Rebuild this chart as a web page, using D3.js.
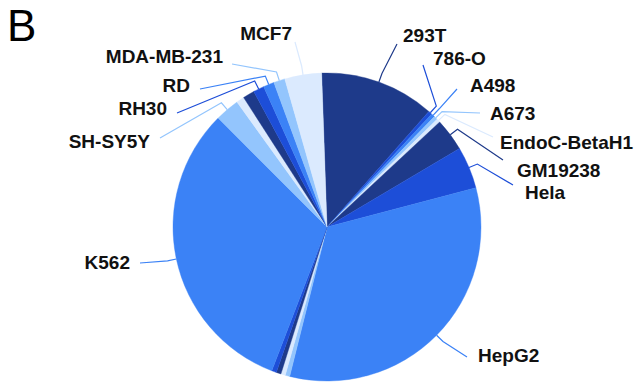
<!DOCTYPE html>
<html>
<head>
<meta charset="utf-8">
<script src="https://cdn.jsdelivr.net/npm/d3@7"></script>
<style>
  html, body { margin: 0; padding: 0; background: #fff; }
  svg { display: block; }
  text { font-family: "Liberation Sans", Arial, sans-serif; }
</style>
</head>
<body>
<svg id="chart" width="636" height="383"></svg>
<script>
// ---- data ----
const categories = ["293T", "786-O", "A498", "A673", "EndoC-BetaH1", "GM19238", "Hela", "HepG2",
  "", "", "", "", "K562", "SH-SY5Y", "", "", "RH30", "RD", "MDA-MB-231", "MCF7"];
const shares = [12.06, 0.39, 0.39, 0.39, 0.39, 3.42, 4.42, 33.0,
  0.47, 0.47, 0.5, 0.5, 31.67, 2.56, 0.83, 1.22, 1.14, 1.14, 1.19, 3.86];
const palette = ["#1e3a8a", "#1d4ed8", "#3b82f6", "#93c5fd", "#dbeafe"];
const panelLetter = "B";

// ---- layout (label anchors, not data) ----
const labelLayout = {
  "293T":         { tx: 403, ty: 42,  anchor: "start", lx: 397, ly: 44 },
  "786-O":        { tx: 433, ty: 65,  anchor: "start", lx: 423, ly: 65 },
  "A498":         { tx: 470, ty: 92,  anchor: "start", lx: 457, ly: 89 },
  "A673":         { tx: 490, ty: 120, anchor: "start", lx: 480, ly: 113 },
  "EndoC-BetaH1": { tx: 500, ty: 149, anchor: "start", lx: 493, ly: 137 },
  "GM19238":      { tx: 517, ty: 177, anchor: "start", lx: 503, ly: 160 },
  "Hela":         { tx: 525, ty: 199, anchor: "start", lx: 513, ly: 185 },
  "HepG2":        { tx: 478, ty: 362, anchor: "start", lx: 467, ly: 357 },
  "K562":         { tx: 130, ty: 269, anchor: "end",   lx: 140, ly: 263 },
  "SH-SY5Y":      { tx: 150, ty: 148, anchor: "end",   lx: 160, ly: 138 },
  "RH30":         { tx: 167, ty: 115, anchor: "end",   lx: 177, ly: 113 },
  "RD":           { tx: 190, ty: 92,  anchor: "end",   lx: 200, ly: 89 },
  "MDA-MB-231":   { tx: 223, ty: 63,  anchor: "end",   lx: 232, ly: 64 },
  "MCF7":         { tx: 292, ty: 40,  anchor: "end",   lx: 295, ly: 42 }
};

const cx = 327, cy = 227, R = 154;
const rot = -0.035;

const svg = d3.select("#chart");
const data = categories.map((c, i) => ({ name: c, value: shares[i], idx: i }));
const color = d3.scaleOrdinal().domain(d3.range(categories.length)).range(palette);

const pie = d3.pie().value(d => d.value).sort(null)
  .startAngle(rot).endAngle(2 * Math.PI + rot);
const arcs = pie(data);
const arc = d3.arc().innerRadius(0).outerRadius(R);

const g = svg.append("g").attr("transform", `translate(${cx},${cy})`);
g.selectAll("path.slice").data(arcs).enter().append("path")
  .attr("class", "slice")
  .attr("d", arc)
  .attr("fill", d => color(d.data.idx))
  .attr("stroke", d => color(d.data.idx))
  .attr("stroke-width", 0.4);

// leader lines
const pt = (a, r) => [cx + r * Math.sin(a), cy - r * Math.cos(a)];
const lineGen = d3.line().curve(d3.curveLinear);
svg.selectAll("path.leader").data(arcs.filter(d => d.data.name && labelLayout[d.data.name]))
  .enter().append("path")
  .attr("class", "leader")
  .attr("fill", "none")
  .attr("stroke", d => color(d.data.idx))
  .attr("stroke-width", 1.2)
  .attr("d", d => {
    const a = (d.startAngle + d.endAngle) / 2;
    const L = labelLayout[d.data.name];
    return lineGen([pt(a, R), pt(a, R + 9), [L.lx, L.ly]]);
  });

// labels
svg.selectAll("text.lbl").data(arcs.filter(d => d.data.name && labelLayout[d.data.name]))
  .enter().append("text")
  .attr("class", "lbl")
  .attr("x", d => labelLayout[d.data.name].tx)
  .attr("y", d => labelLayout[d.data.name].ty)
  .attr("text-anchor", d => labelLayout[d.data.name].anchor)
  .attr("font-size", 19)
  .attr("font-weight", "bold")
  .attr("fill", "#111")
  .text(d => d.data.name);

svg.append("text")
  .attr("x", 7).attr("y", 41)
  .attr("font-size", 44)
  .attr("fill", "#000")
  .text(panelLetter);
</script>
</body>
</html>
